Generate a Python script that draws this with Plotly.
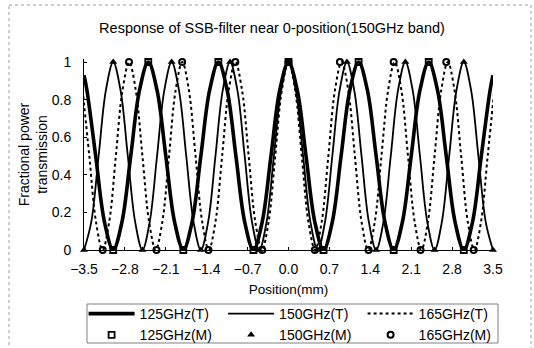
import plotly.graph_objects as go

# ---------------- data ----------------
x_ticks = [-3.5, -2.8, -2.1, -1.4, -0.7, 0.0, 0.7, 1.4, 2.1, 2.8, 3.5]
y_ticks = [0, 0.2, 0.4, 0.6, 0.8, 1]

# 125GHz theory curve (thick solid)
t125_x = [-3.5, -3.45, -3.3, -3.15, -3.0, -2.85, -2.7, -2.55, -2.4, -2.25, -2.1, -1.95,
          -1.8, -1.65, -1.5, -1.35, -1.2, -1.05, -0.9, -0.75, -0.6, -0.45, -0.3, -0.15,
          0.0, 0.15, 0.3, 0.45, 0.6, 0.75, 0.9, 1.05, 1.2, 1.35, 1.5, 1.65, 1.8, 1.95,
          2.1, 2.25, 2.4, 2.55, 2.7, 2.85, 3.0, 3.15, 3.3, 3.45, 3.5]
t125_y = [0.93,
          0.85, 0.5, 0.15, 0.0, 0.15, 0.5, 0.85, 1.0,
          0.85, 0.5, 0.15, 0.0, 0.15, 0.5, 0.85, 1.0,
          0.85, 0.5, 0.15, 0.0, 0.15, 0.5, 0.85, 1.0,
          0.85, 0.5, 0.15, 0.0, 0.15, 0.5, 0.85, 1.0,
          0.85, 0.5, 0.15, 0.0, 0.15, 0.5, 0.85, 1.0,
          0.85, 0.5, 0.15, 0.0, 0.15, 0.5, 0.85,
          0.93]

# 150GHz theory curve (thin solid)
t150_x = [-3.5, -3.375, -3.25, -3.125, -3.0, -2.875, -2.75, -2.625, -2.5, -2.375, -2.25,
          -2.125, -2.0, -1.875, -1.75, -1.625, -1.5, -1.375, -1.25, -1.125, -1.0, -0.875,
          -0.75, -0.625, -0.5, -0.375, -0.25, -0.125, 0.0, 0.125, 0.25, 0.375, 0.5, 0.625,
          0.75, 0.875, 1.0, 1.125, 1.25, 1.375, 1.5, 1.625, 1.75, 1.875, 2.0, 2.125, 2.25,
          2.375, 2.5, 2.625, 2.75, 2.875, 3.0, 3.125, 3.25, 3.375, 3.5]
t150_y = [0.0, 0.15, 0.5, 0.85, 1.0, 0.85, 0.5, 0.15,
          0.0, 0.15, 0.5, 0.85, 1.0, 0.85, 0.5, 0.15,
          0.0, 0.15, 0.5, 0.85, 1.0, 0.85, 0.5, 0.15,
          0.0, 0.15, 0.5, 0.85, 1.0, 0.85, 0.5, 0.15,
          0.0, 0.15, 0.5, 0.85, 1.0, 0.85, 0.5, 0.15,
          0.0, 0.15, 0.5, 0.85, 1.0, 0.85, 0.5, 0.15,
          0.0, 0.15, 0.5, 0.85, 1.0, 0.85, 0.5, 0.15,
          0.0]

# 165GHz theory curve (dotted)
t165_x = [-3.523, -3.409, -3.295, -3.182, -3.068, -2.955, -2.841, -2.727, -2.614, -2.5,
          -2.386, -2.273, -2.159, -2.045, -1.932, -1.818, -1.705, -1.591, -1.477, -1.364,
          -1.25, -1.136, -1.023, -0.909, -0.795, -0.682, -0.568, -0.455, -0.341, -0.227,
          -0.114, 0.0, 0.114, 0.227, 0.341, 0.455, 0.568, 0.682, 0.795, 0.909, 1.023,
          1.136, 1.25, 1.364, 1.477, 1.591, 1.705, 1.818, 1.932, 2.045, 2.159, 2.273,
          2.386, 2.5, 2.614, 2.727, 2.841, 2.955, 3.068, 3.182, 3.295, 3.409, 3.523]
t165_y = [0.85, 0.5, 0.15, 0.0, 0.15, 0.5, 0.85, 1.0,
          0.85, 0.5, 0.15, 0.0, 0.15, 0.5, 0.85, 1.0,
          0.85, 0.5, 0.15, 0.0, 0.15, 0.5, 0.85, 1.0,
          0.85, 0.5, 0.15, 0.0, 0.15, 0.5, 0.85, 1.0,
          0.85, 0.5, 0.15, 0.0, 0.15, 0.5, 0.85, 1.0,
          0.85, 0.5, 0.15, 0.0, 0.15, 0.5, 0.85, 1.0,
          0.85, 0.5, 0.15, 0.0, 0.15, 0.5, 0.85, 1.0,
          0.85, 0.5, 0.15, 0.0, 0.15, 0.5, 0.85]

# measured points
m125_x = [-3.0, -2.4, -1.8, -1.2, -0.6, 0.0, 0.6, 1.2, 1.8, 2.4, 3.0]
m125_y = [0.0, 1.0, 0.0, 1.0, 0.0, 1.0, 0.0, 1.0, 0.0, 1.0, 0.0]
m150_x = [-3.5, -3.0, -2.5, -2.0, -1.5, -1.0, -0.5, 0.0, 0.5, 1.0, 1.5, 2.0, 2.5, 3.0, 3.5]
m150_y = [0.0, 1.0, 0.0, 1.0, 0.0, 1.0, 0.0, 1.0, 0.0, 1.0, 0.0, 1.0, 0.0, 1.0, 0.0]
m165_x = [-3.18, -2.73, -2.26, -1.82, -1.37, -0.91, -0.45, 0.0, 0.45, 0.88, 1.37, 1.80,
          2.26, 2.70, 3.17]
m165_y = [0.0, 1.0, 0.0, 1.0, 0.0, 1.0, 0.0, 1.0, 0.0, 1.0, 0.0, 1.0, 0.0, 1.0, 0.0]

title_text = "Response of SSB-filter near 0-position(150GHz band)"
x_title = "Position(mm)"
y_title = "Fractional power<br>transmission"

# ---------------- figure ----------------
FONT = "Liberation Sans, Arial, Helvetica, sans-serif"
W, H = 534, 348
L, R, T, B = 84, 41, 59, 98
PW, PH = W - L - R, H - T - B
Y_TOP = 1.016


def px_x(p):
    return (p - L) / PW


def px_y(p):
    return (H - B - p) / PH


fig = go.Figure()
fig.add_trace(go.Scatter(x=t125_x, y=t125_y, mode="lines", name="125GHz(T)",
                         line=dict(color="black", width=3.6, shape="spline")))
fig.add_trace(go.Scatter(x=t150_x, y=t150_y, mode="lines", name="150GHz(T)",
                         line=dict(color="black", width=1.8, shape="spline")))
fig.add_trace(go.Scatter(x=t165_x, y=t165_y, mode="lines", name="165GHz(T)",
                         line=dict(color="black", width=2, dash="dot", shape="spline")))
fig.add_trace(go.Scatter(x=m125_x, y=m125_y, mode="markers", name="125GHz(M)", cliponaxis=False,
                         marker=dict(symbol="square-open", size=6, color="black",
                                     line=dict(width=1.8, color="black"))))
fig.add_trace(go.Scatter(x=m150_x, y=m150_y, mode="markers", name="150GHz(M)", cliponaxis=False,
                         marker=dict(symbol="triangle-up", size=7, color="black")))
fig.add_trace(go.Scatter(x=m165_x, y=m165_y, mode="markers", name="165GHz(M)", cliponaxis=False,
                         marker=dict(symbol="circle-open", size=6, color="black",
                                     line=dict(width=2, color="black"))))

fig.update_layout(
    width=W, height=H, autosize=False,
    margin=dict(l=L, r=R, t=T, b=B, pad=0, autoexpand=False),
    paper_bgcolor="white", plot_bgcolor="white",
    font=dict(family=FONT, size=14, color="black"),
    title=dict(text=title_text, x=px_x(272), xref="paper", xanchor="center",
               y=1 - 28 / H, yref="container", yanchor="middle",
               font=dict(family=FONT, size=14.5, color="black")),
    xaxis=dict(range=[-3.5, 3.5], tickvals=x_ticks, tickformat=".1f",
               showgrid=False, zeroline=False, showline=True, linecolor="black", linewidth=1,
               ticks="inside", ticklen=3, tickcolor="black", ticklabelstandoff=6,
               tickfont=dict(family=FONT, size=14, color="black"),
               title=dict(text=x_title, standoff=8, font=dict(family=FONT, size=13.5, color="black"))),
    yaxis=dict(range=[0, Y_TOP], tickvals=y_ticks,
               showgrid=False, zeroline=False, showline=True, linecolor="black", linewidth=1,
               ticks="inside", ticklen=3, tickcolor="black", ticklabelstandoff=9,
               tickfont=dict(family=FONT, size=14, color="black"),
               title=dict(text=y_title, standoff=0, font=dict(family=FONT, size=14, color="black"))),
    legend=dict(orientation="h", x=-0.001, xanchor="left", y=px_y(298), yanchor="top",
                borderwidth=0, bgcolor="rgba(0,0,0,0)",
                font=dict(family=FONT, size=14, color="black"),
                itemwidth=46, entrywidth=78.5, entrywidthmode="pixels",
                traceorder="normal"),
    showlegend=True,
    shapes=[
        dict(type="rect", xref="paper", yref="paper",
             x0=px_x(9), x1=px_x(531), y0=px_y(5), y1=px_y(352),
             line=dict(color="#a0a0a0", width=1, dash="dot"), layer="below"),
        dict(type="rect", xref="paper", yref="paper",
             x0=px_x(87), x1=px_x(498), y0=px_y(304), y1=px_y(343),
             line=dict(color="#808080", width=1), layer="below"),
    ],
)

fig.write_html("out.html")
